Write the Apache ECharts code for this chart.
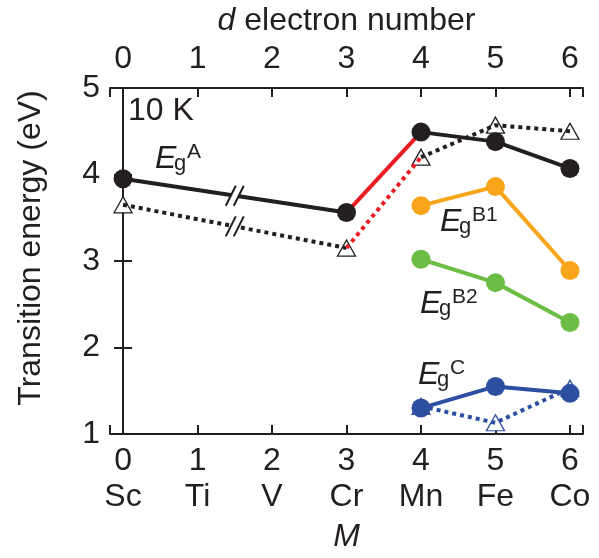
<!DOCTYPE html>
<html lang="en" style="height: 100%">
<head>
  <meta charset="utf-8">
</head>
<body style="height: 100%; margin: 0; background: #fff">
  <div id="container" style="width: 599px; height: 558px"></div>
  <script type="text/javascript" src="https://cdn.jsdelivr.net/npm/echarts@6/dist/echarts.min.js"></script>
  <script type="text/javascript">
// d electron number / element
const dNumbers = [0, 1, 2, 3, 4, 5, 6];
const elements = ['Sc', 'Ti', 'V', 'Cr', 'Mn', 'Fe', 'Co'];

// transition energies (eV), [d number, energy]
const egA = [[0, 3.95], [3, 3.56], [4, 4.49], [5, 4.38], [6, 4.07]];
const egAOpen = [[0, 3.65], [3, 3.15], [4, 4.2], [5, 4.57], [6, 4.5]];
const egB1 = [[4, 3.64], [5, 3.86], [6, 2.89]];
const egB2 = [[4, 3.02], [5, 2.75], [6, 2.29]];
const egC = [[4, 1.30], [5, 1.55], [6, 1.47]];
const egCOpen = [[4, 1.32], [5, 1.13], [6, 1.53]];

const yTicks = [1, 2, 3, 4, 5];

var dom = document.getElementById('container');
var myChart = echarts.init(dom, null, { renderer: 'canvas' });

const FONT = '"Liberation Sans", Arial, sans-serif';
const FS = 32;
const INK = '#231f20';
const RED = '#ec1c24';
const ORANGE = '#f9a51a';
const GREEN = '#6cbd45';
const BLUE = '#2d4fa1';

function intLabel(v) {
  return Math.abs(v - Math.round(v)) < 1e-6 ? String(Math.round(v)) : '';
}

function lineSeries(data, color, dotted) {
  return {
    type: 'line',
    data: data,
    showSymbol: false,
    symbol: 'none',
    silent: true,
    lineStyle: {
      color: color,
      width: 4,
      opacity: 1,
      type: dotted ? [4, 4] : 'solid',
      cap: 'butt'
    },
    z: 3
  };
}

function dots(data, color, open) {
  return {
    type: 'scatter',
    data: data,
    symbol: open ? 'triangle' : 'circle',
    symbolSize: open ? [18, 16] : 19,
    itemStyle: open
      ? { color: '#fff', borderColor: color, borderWidth: 1.3, opacity: 1 }
      : { color: color, opacity: 1 },
    silent: true,
    z: open ? 2 : 5
  };
}

// axis break marks sit halfway between Sc and Cr
const breaks = [
  [1.5, (egA[0][1] + egA[1][1]) / 2],
  [1.5, (egAOpen[0][1] + egAOpen[1][1]) / 2]
];

function egLabel(x, y, sup) {
  return [
    { type: 'text', x: x, y: y, style: { text: 'E', fontSize: FS, fontStyle: 'italic', fontFamily: FONT, fill: INK, verticalAlign: 'middle' } },
    { type: 'text', x: x + 19, y: y + 5, style: { text: 'g', fontSize: 22, fontFamily: FONT, fill: INK, verticalAlign: 'middle' } },
    { type: 'text', x: x + 32, y: y - 7, style: { text: sup, fontSize: 21, fontFamily: FONT, fill: INK, verticalAlign: 'middle' } }
  ];
}

const axisLineStyle = { color: INK, width: 2 };
const tickStyle = { inside: true, length: 9, lineStyle: { color: INK, width: 2 } };

var option = {
  animation: false,
  backgroundColor: '#fff',
  textStyle: { fontFamily: FONT, color: INK },
  grid: { left: 110, top: 84, width: 473, height: 356 },
  xAxis: [
    {
      type: 'value',
      position: 'bottom',
      min: -0.175,
      max: 6.175,
      splitNumber: 6,
      name: 'M',
      nameLocation: 'middle',
      nameGap: 87,
      nameTextStyle: { fontSize: FS, fontStyle: 'italic', color: INK, fontFamily: FONT },
      axisLine: { lineStyle: axisLineStyle },
      axisTick: tickStyle,
      splitLine: { show: false },
      axisLabel: {
        margin: 9,
        color: INK,
        formatter: function (v) {
          const s = intLabel(v);
          if (s === '') return '';
          const i = dNumbers.indexOf(+s);
          return '{n|' + s + '}\n{e|' + elements[i] + '}';
        },
        rich: {
          n: { fontSize: FS, lineHeight: 36, fontFamily: FONT, color: INK },
          e: { fontSize: FS, lineHeight: 36, fontFamily: FONT, color: INK }
        }
      }
    },
    {
      type: 'value',
      position: 'top',
      min: -0.175,
      max: 6.175,
      splitNumber: 6,
      name: '{i|d} electron number',
      nameLocation: 'middle',
      nameGap: 51,
      nameTextStyle: {
        fontSize: FS, color: INK, fontFamily: FONT,
        rich: { i: { fontSize: FS, fontStyle: 'italic', color: INK, fontFamily: FONT } }
      },
      axisLine: { lineStyle: axisLineStyle },
      axisTick: tickStyle,
      splitLine: { show: false },
      axisLabel: { margin: 13, fontSize: FS, color: INK, fontFamily: FONT, formatter: intLabel }
    }
  ],
  yAxis: [
    {
      type: 'value',
      position: 'left',
      min: yTicks[0],
      max: yTicks[yTicks.length - 1],
      interval: 1,
      axisLine: { show: true, lineStyle: axisLineStyle },
      axisTick: Object.assign({ show: true }, tickStyle),
      splitLine: { show: false },
      axisLabel: { margin: 10, fontSize: FS, color: INK, fontFamily: FONT }
    },
    {
      type: 'value',
      position: 'right',
      min: yTicks[0],
      max: yTicks[yTicks.length - 1],
      interval: 1,
      axisLine: { show: true, lineStyle: axisLineStyle },
      axisTick: Object.assign({ show: true }, tickStyle),
      splitLine: { show: false },
      axisLabel: { show: false }
    }
  ],
  series: [
    dots(egAOpen, INK, true),
    dots(egCOpen, BLUE, true),
    lineSeries(egAOpen.slice(0, 2), INK, true),
    lineSeries(egAOpen.slice(1, 3), RED, true),
    lineSeries(egAOpen.slice(2), INK, true),
    lineSeries(egCOpen, BLUE, true),
    lineSeries(egA.slice(0, 2), INK, false),
    lineSeries(egA.slice(1, 3), RED, false),
    lineSeries(egA.slice(2), INK, false),
    lineSeries(egB1, ORANGE, false),
    lineSeries(egB2, GREEN, false),
    lineSeries(egC, BLUE, false),
    {
      type: 'custom',
      data: breaks,
      silent: true,
      z: 4,
      renderItem: function (params, api) {
        const p = api.coord([api.value(0), api.value(1)]);
        const h = 10, dx = 5, off = 4;
        return {
          type: 'group',
          children: [
            {
              type: 'polygon',
              shape: { points: [[p[0] - off - dx, p[1] + h], [p[0] - off + dx, p[1] - h], [p[0] + off + dx, p[1] - h], [p[0] + off - dx, p[1] + h]] },
              style: { fill: '#fff' }
            },
            { type: 'line', shape: { x1: p[0] - off - dx, y1: p[1] + h, x2: p[0] - off + dx, y2: p[1] - h }, style: { stroke: INK, lineWidth: 2 } },
            { type: 'line', shape: { x1: p[0] + off - dx, y1: p[1] + h, x2: p[0] + off + dx, y2: p[1] - h }, style: { stroke: INK, lineWidth: 2 } }
          ]
        };
      }
    },
    dots(egA, INK, false),
    dots(egB1, ORANGE, false),
    dots(egB2, GREEN, false),
    dots(egC, BLUE, false)
  ],
  graphic: [
    {
      type: 'text', x: 31, y: 248, rotation: Math.PI / 2,
      style: { text: 'Transition energy (eV)', fontSize: FS, fontFamily: FONT, fill: INK, align: 'center', verticalAlign: 'middle' }
    },
    { type: 'text', x: 128, y: 111, style: { text: '10 K', fontSize: FS, fontFamily: FONT, fill: INK, verticalAlign: 'middle' } }
  ]
    .concat(egLabel(155, 159, 'A'))
    .concat(egLabel(440, 222, 'B1'))
    .concat(egLabel(420, 304, 'B2'))
    .concat(egLabel(418, 375, 'C'))
};

myChart.setOption(option);
window.addEventListener('resize', myChart.resize);
  </script>
</body>
</html>
